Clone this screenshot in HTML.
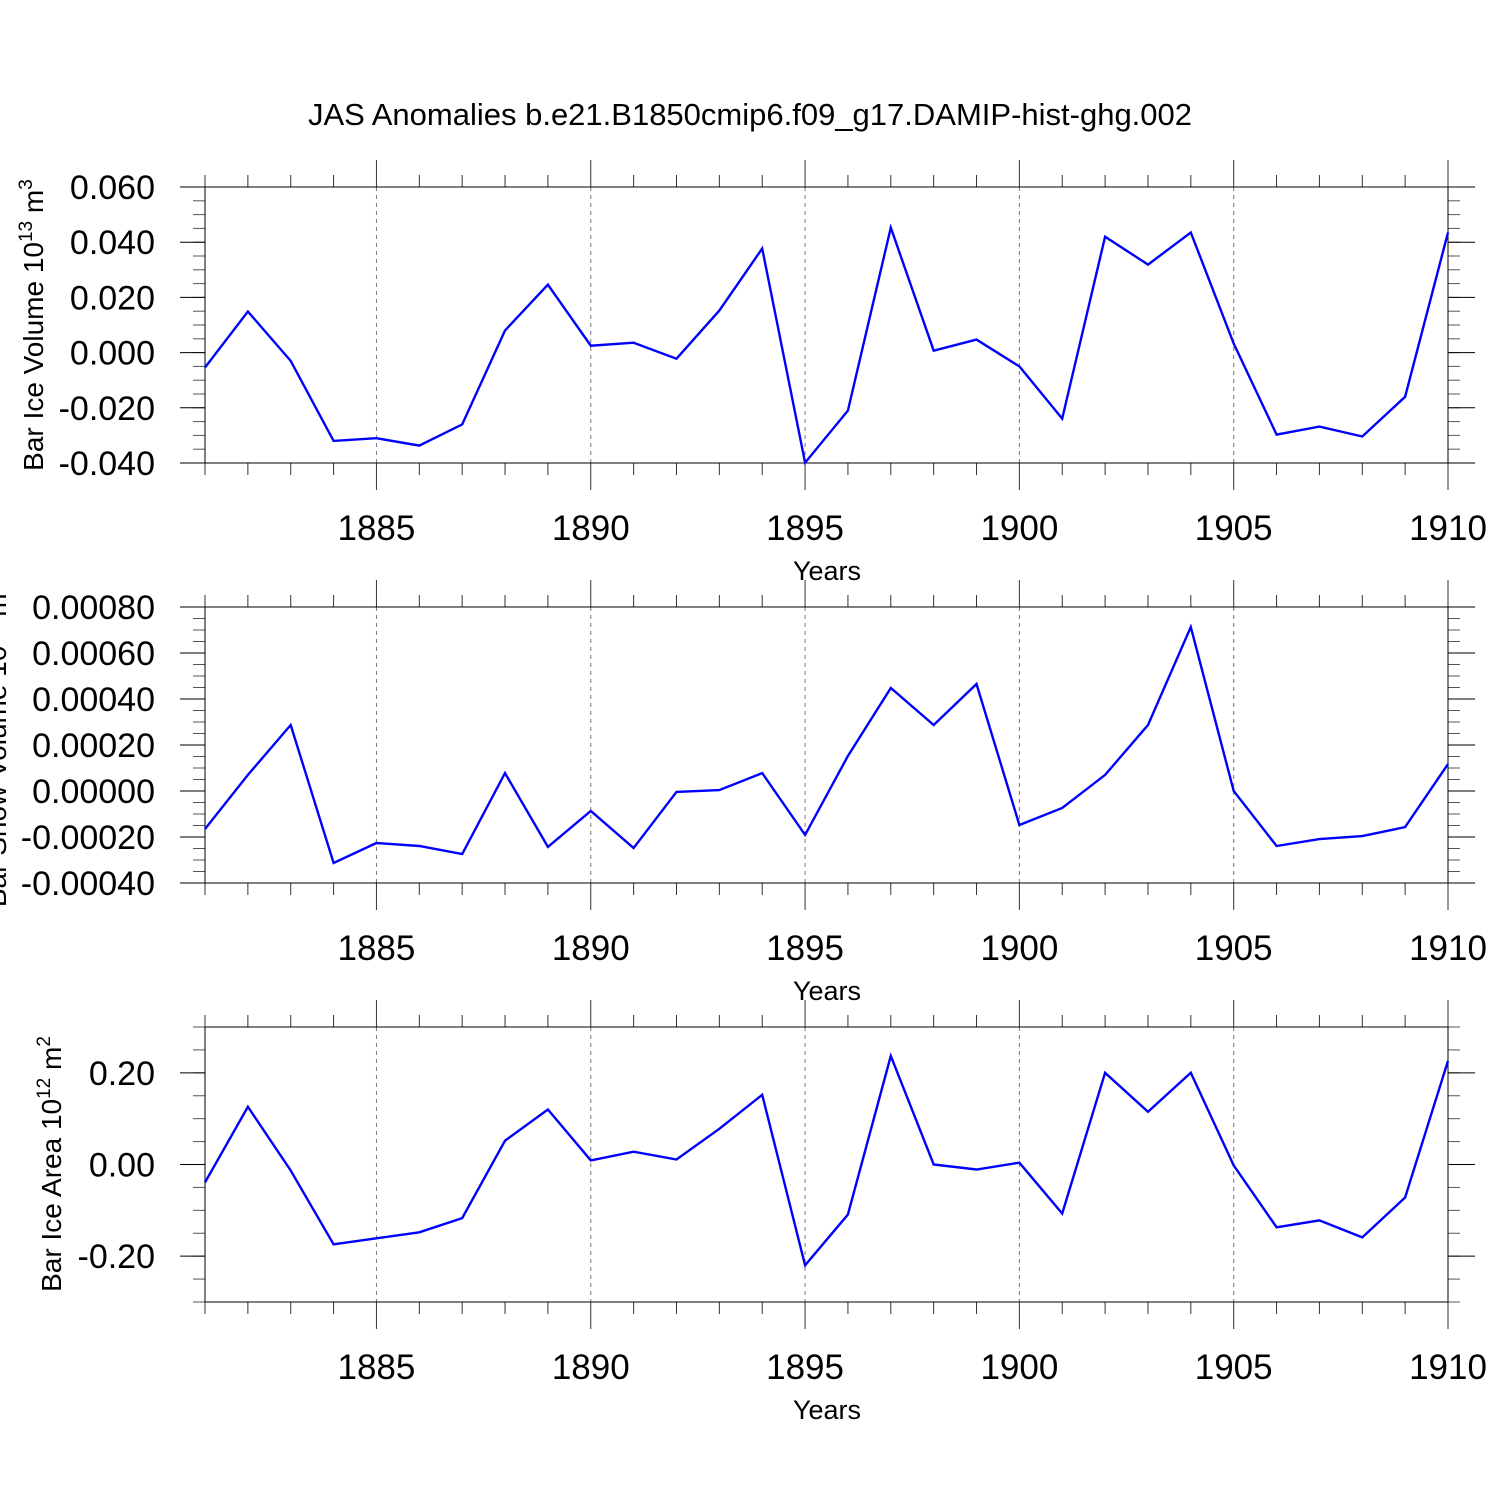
<!DOCTYPE html>
<html><head><meta charset="utf-8">
<style>
html,body{margin:0;padding:0;background:#fff;}
svg{display:block;font-family:"Liberation Sans",Arial,sans-serif;}
</style></head>
<body>
<svg id="chart" width="1500" height="1500" viewBox="0 0 1500 1500" xmlns="http://www.w3.org/2000/svg">
<rect width="1500" height="1500" fill="#fff"/>
<text x="750" y="125" font-size="31" text-anchor="middle">JAS Anomalies b.e21.B1850cmip6.f09_g17.DAMIP-hist-ghg.002</text>
</svg>
<script>
const years = [1881,1882,1883,1884,1885,1886,1887,1888,1889,1890,1891,1892,1893,1894,1895,1896,1897,1898,1899,1900,1901,1902,1903,1904,1905,1906,1907,1908,1909,1910];
const xTickLabels = ["1885","1890","1895","1900","1905","1910"];
const iceVolume = [-0.0054,0.0149,-0.003,-0.032,-0.031,-0.0337,-0.026,0.008,0.0246,0.0025,0.0036,-0.0022,0.0152,0.0377,-0.0399,-0.021,0.0453,0.0007,0.0047,-0.005,-0.0239,0.042,0.0319,0.0435,0.0033,-0.0297,-0.0268,-0.0304,-0.016,0.0435];
const snowVolume = [-0.000165,0.00007,0.000287,-0.000313,-0.000226,-0.000239,-0.000274,0.000078,-0.000243,-0.000087,-0.000248,-0.000004,0.000004,0.000078,-0.000191,0.000152,0.000448,0.000287,0.000465,-0.000148,-0.000074,0.00007,0.000287,0.000713,0,-0.000239,-0.000209,-0.000196,-0.000157,0.000117];
const iceArea = [-0.039,0.126,-0.013,-0.174,-0.161,-0.148,-0.117,0.052,0.12,0.009,0.028,0.011,0.078,0.152,-0.22,-0.109,0.237,0,-0.011,0.004,-0.107,0.2,0.115,0.2,-0.002,-0.137,-0.122,-0.159,-0.072,0.226];
const yTicks1 = ["0.060","0.040","0.020","0.000","-0.020","-0.040"];
const yTicks2 = ["0.00080","0.00060","0.00040","0.00020","0.00000","-0.00020","-0.00040"];
const yTicks3 = ["0.20","0.00","-0.20"];

const NS="http://www.w3.org/2000/svg";
const svg=document.getElementById('chart');
const X0=205,X1=1448,YR0=1881,YR1=1910;
function xScale(yr){return X0+(yr-YR0)/(YR1-YR0)*(X1-X0);}
function mk(tag,attrs,parent){const e=document.createElementNS(NS,tag);for(const k in attrs)e.setAttribute(k,attrs[k]);(parent||svg).appendChild(e);return e;}

function panel(cfg){
  const g=mk('g',{});
  
  
  const {top,bot,ymin,ymax,minor}=cfg;
  const ys=v=>bot-(v-ymin)/(ymax-ymin)*(bot-top);
  xTickLabels.forEach(t=>{const x=xScale(+t);
    const l=mk('line',{x1:x,x2:x,y1:top,y2:bot,stroke:'#777','stroke-width':1,'stroke-dasharray':'4,4'},g);
    
    });
  const n=Math.round((ymax-ymin)/minor);
  for(let i=0;i<=n;i++){const y=ys(ymin+i*minor);
    mk('line',{x1:193,x2:205,y1:y,y2:y,stroke:'#555','stroke-width':1},g);
    mk('line',{x1:1448,x2:1460,y1:y,y2:y,stroke:'#555','stroke-width':1},g);}
  cfg.yTicks.forEach(t=>{const y=ys(parseFloat(t));
    mk('line',{x1:180,x2:205,y1:y,y2:y,stroke:'#000','stroke-width':1},g);
    mk('line',{x1:1448,x2:1475,y1:y,y2:y,stroke:'#000','stroke-width':1},g);
    const tx=mk('text',{x:155,y:y+12,'font-size':34,'text-anchor':'end'},g);
    tx.textContent=t;
    
    });
  years.forEach(yr=>{const x=xScale(yr);const major=xTickLabels.includes(String(yr));const L=major?27:12;
    mk('line',{x1:x,x2:x,y1:top-L,y2:top,stroke:'#333','stroke-width':1},g);
    mk('line',{x1:x,x2:x,y1:bot,y2:bot+L,stroke:'#333','stroke-width':1},g);});
  xTickLabels.forEach(t=>{const tx=mk('text',{x:xScale(+t),y:bot+77,'font-size':35,'text-anchor':'middle'},g);
    tx.textContent=t;
    
    });
  const fr=mk('rect',{x:X0,y:top,width:X1-X0,height:bot-top,fill:'none',stroke:'#000','stroke-width':1},g);
  
  
  const pts=cfg.data.map((v,i)=>xScale(years[i]).toFixed(1)+','+ys(v).toFixed(1)).join(' ');
  const pl=mk('polyline',{points:pts,fill:'none',stroke:'#0000ff','stroke-width':2.4,'stroke-linejoin':'miter'},g);
  
  
  const xt=mk('text',{x:827,y:bot+117,'font-size':27,'text-anchor':'middle'},g);
  xt.textContent='Years';
  
  
  const yt=mk('text',{x:0,y:0,'font-size':28,'text-anchor':'middle',transform:`translate(${cfg.ytx},${cfg.yty}) rotate(-90)`},g);
  yt.innerHTML=cfg.ytitle;
  
  
}
panel({name:'ice-volume-panel',top:187,bot:463,ymin:-0.04,ymax:0.06,minor:0.005,yTicks:yTicks1,data:iceVolume,ytx:43,yty:325,
 ytitle:'Bar Ice Volume 10<tspan dy="-11" font-size="19">13</tspan><tspan dy="11"> m</tspan><tspan dy="-11" font-size="19">3</tspan>'});
panel({name:'snow-volume-panel',top:607,bot:883,ymin:-0.0004,ymax:0.0008,minor:0.00005,yTicks:yTicks2,data:snowVolume,ytx:6,yty:745,
 ytitle:'Bar Snow Volume 10<tspan dy="-11" font-size="19">13</tspan><tspan dy="11"> m</tspan><tspan dy="-11" font-size="19">3</tspan>'});
panel({name:'ice-area-panel',top:1027,bot:1302,ymin:-0.3,ymax:0.3,minor:0.05,yTicks:yTicks3,data:iceArea,ytx:61,yty:1164,
 ytitle:'Bar Ice Area 10<tspan dy="-11" font-size="19">12</tspan><tspan dy="11"> m</tspan><tspan dy="-11" font-size="19">2</tspan>'});
</script>
</body></html>
